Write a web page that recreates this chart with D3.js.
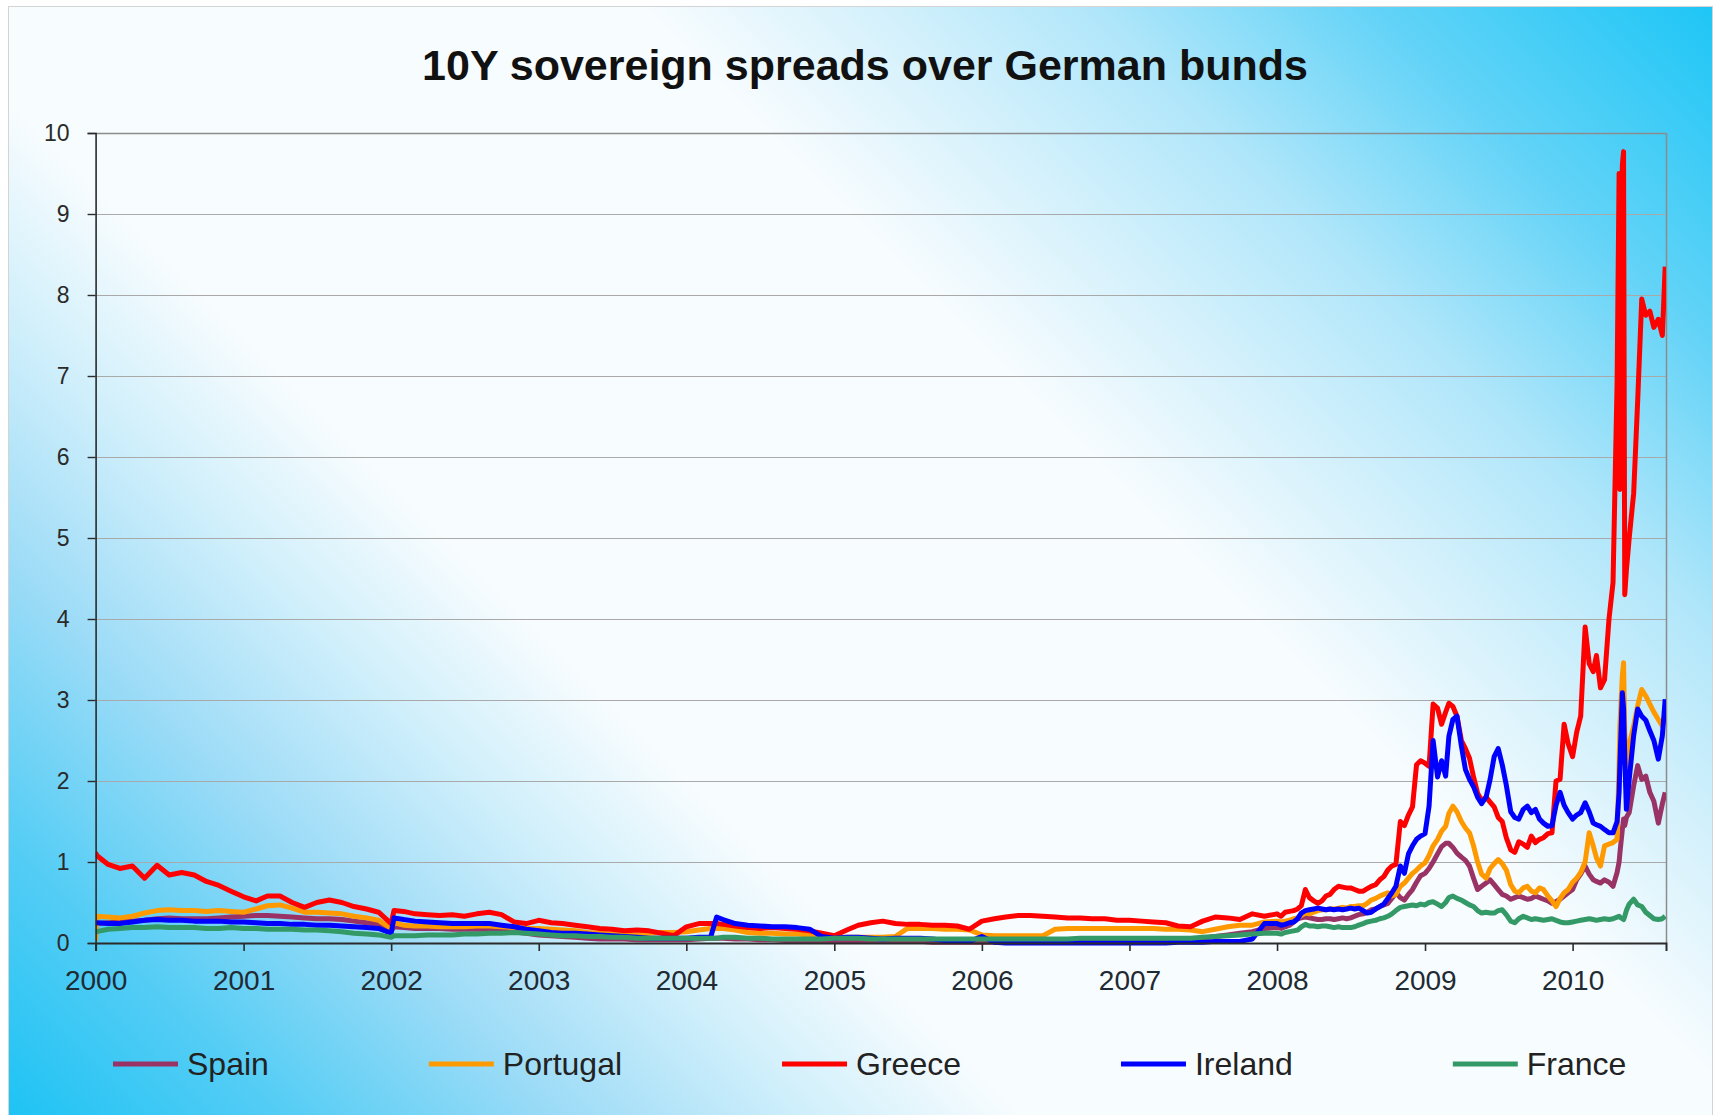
<!DOCTYPE html>
<html>
<head>
<meta charset="utf-8">
<title>10Y sovereign spreads over German bunds</title>
<script src="https://cdn.jsdelivr.net/npm/d3@7"></script>
<style>
  html, body { margin: 0; padding: 0; background: #ffffff; }
  svg { display: block; font-family: "Liberation Sans", Arial, Helvetica, sans-serif; }
</style>
</head>
<body>
<svg id="chart" width="1723" height="1115"></svg>
<script>
// Observation dates: monthly to 2007, roughly every ten days from 2008
const dates = [
  "2000-01-01","2000-01-04","2000-02-01","2000-03-01","2000-04-01","2000-05-01","2000-06-01","2000-07-01","2000-08-01","2000-09-01","2000-10-01","2000-11-01","2000-12-01",
  "2001-01-01","2001-02-01","2001-03-01","2001-04-01","2001-05-01","2001-06-01","2001-07-01","2001-08-01","2001-09-01","2001-10-01","2001-11-01","2001-12-01",
  "2002-01-01","2002-01-08","2002-02-01","2002-03-01","2002-04-01","2002-05-01","2002-06-01","2002-07-01","2002-08-01","2002-09-01","2002-10-01","2002-11-01","2002-12-01",
  "2003-01-01","2003-02-01","2003-03-01","2003-04-01","2003-05-01","2003-06-01","2003-07-01","2003-08-01","2003-09-01","2003-10-01","2003-11-01","2003-12-01",
  "2004-01-01","2004-02-01","2004-03-01","2004-03-16","2004-04-01","2004-05-01","2004-06-01","2004-07-01","2004-08-01","2004-09-01","2004-10-01","2004-11-01","2004-12-01",
  "2005-01-01","2005-02-01","2005-03-01","2005-04-01","2005-05-01","2005-06-01","2005-07-01","2005-08-01","2005-09-01","2005-10-01","2005-11-01","2005-12-01",
  "2006-01-01","2006-02-01","2006-03-01","2006-04-01","2006-05-01","2006-06-01","2006-07-01","2006-08-01","2006-09-01","2006-10-01","2006-11-01","2006-12-01",
  "2007-01-01","2007-02-01","2007-03-01","2007-04-01","2007-05-01","2007-06-01","2007-07-01","2007-08-01","2007-09-01","2007-10-01","2007-11-01","2007-12-01",
  "2008-01-01","2008-01-11","2008-01-21","2008-02-01","2008-02-11","2008-02-21","2008-03-01","2008-03-11","2008-03-21","2008-04-01","2008-04-11","2008-04-21",
  "2008-05-01","2008-05-11","2008-05-21","2008-06-01","2008-06-11","2008-06-21","2008-07-01","2008-07-11","2008-07-21","2008-08-01","2008-08-11","2008-08-21",
  "2008-09-01","2008-09-11","2008-09-21","2008-10-01","2008-10-11","2008-10-21","2008-11-01","2008-11-11","2008-11-21","2008-12-01","2008-12-11","2008-12-21",
  "2009-01-01","2009-01-11","2009-01-21","2009-02-01","2009-02-11","2009-02-21","2009-03-01","2009-03-11","2009-03-21","2009-04-01","2009-04-11","2009-04-21",
  "2009-05-01","2009-05-11","2009-05-21","2009-06-01","2009-06-11","2009-06-21","2009-07-01","2009-07-11","2009-07-21","2009-08-01","2009-08-11","2009-08-21",
  "2009-09-01","2009-09-11","2009-09-21","2009-10-01","2009-10-11","2009-10-21","2009-11-01","2009-11-11","2009-11-21","2009-12-01","2009-12-11","2009-12-21",
  "2010-01-01","2010-01-11","2010-01-21","2010-02-01","2010-02-11","2010-02-21","2010-03-01","2010-03-11","2010-03-21",
  "2010-04-01","2010-04-11","2010-04-21","2010-04-26","2010-04-28","2010-05-04","2010-05-07","2010-05-10","2010-05-14","2010-05-21",
  "2010-06-01","2010-06-11","2010-06-21","2010-07-01","2010-07-11","2010-07-21","2010-08-01","2010-08-11","2010-08-18"
];

// Spreads over the German 10Y bund, percentage points
const spain = [
  0.24,0.24,0.25,0.26,0.27,0.28,0.30,0.31,0.30,0.30,0.30,0.31,0.32,
  0.33,0.34,0.34,0.33,0.32,0.31,0.30,0.30,0.29,0.27,0.25,0.23,
  0.15,0.20,0.19,0.18,0.18,0.18,0.17,0.17,0.17,0.17,0.16,0.14,0.12,
  0.10,0.09,0.08,0.07,0.06,0.05,0.05,0.05,0.04,0.04,0.04,0.04,
  0.04,0.05,0.06,0.06,0.06,0.05,0.05,0.04,0.04,0.03,0.03,0.02,0.02,
  0.02,0.02,0.02,0.02,0.02,0.02,0.02,0.02,0.01,0.01,0.01,0.01,
  0.01,0.01,0.01,0.01,0.01,0.01,0.01,0.01,0.01,0.01,0.01,0.01,
  0.01,0.01,0.02,0.02,0.03,0.04,0.06,0.08,0.10,0.12,0.14,0.18,
  0.19,0.18,0.20,0.22,0.26,0.30,0.31,0.32,0.31,0.30,0.29,0.29,
  0.30,0.30,0.29,0.30,0.31,0.30,0.31,0.33,0.35,0.36,0.38,0.41,
  0.42,0.45,0.47,0.49,0.55,0.62,0.56,0.53,0.60,0.66,0.75,0.83,
  0.86,0.92,1.00,1.10,1.19,1.23,1.23,1.18,1.11,1.06,1.02,0.95,
  0.80,0.66,0.70,0.74,0.78,0.72,0.66,0.60,0.58,0.54,0.56,0.58,
  0.56,0.54,0.55,0.58,0.56,0.54,0.52,0.49,0.51,0.54,0.58,0.62,
  0.66,0.78,0.85,0.95,0.85,0.78,0.76,0.74,0.78,
  0.75,0.70,0.87,1.00,1.11,1.40,1.53,1.45,1.55,1.61,
  1.94,2.19,2.02,2.06,1.86,1.75,1.48,1.72,1.86
];

const portugal = [
  0.03,0.33,0.32,0.31,0.33,0.37,0.40,0.41,0.40,0.40,0.39,0.40,0.39,
  0.38,0.42,0.46,0.47,0.43,0.38,0.38,0.37,0.36,0.33,0.31,0.28,
  0.18,0.25,0.22,0.21,0.21,0.20,0.20,0.20,0.21,0.21,0.20,0.19,0.18,
  0.18,0.17,0.16,0.15,0.13,0.12,0.11,0.11,0.10,0.12,0.13,0.13,
  0.14,0.16,0.18,0.18,0.18,0.16,0.13,0.12,0.12,0.11,0.11,0.10,0.08,
  0.07,0.07,0.07,0.07,0.07,0.08,0.18,0.18,0.18,0.17,0.17,0.16,
  0.10,0.09,0.09,0.09,0.09,0.09,0.17,0.18,0.18,0.18,0.18,0.18,
  0.18,0.18,0.18,0.17,0.17,0.16,0.14,0.17,0.20,0.22,0.22,0.26,
  0.27,0.26,0.27,0.28,0.30,0.31,0.34,0.37,0.36,0.38,0.40,0.41,
  0.41,0.42,0.42,0.43,0.44,0.43,0.45,0.45,0.46,0.46,0.49,0.53,
  0.55,0.58,0.60,0.62,0.58,0.60,0.70,0.74,0.80,0.86,0.90,0.95,
  0.99,1.08,1.20,1.28,1.38,1.44,1.60,1.69,1.62,1.50,1.42,1.36,
  1.20,1.00,0.85,0.80,0.92,0.98,1.03,0.98,0.90,0.72,0.64,0.62,
  0.68,0.70,0.64,0.62,0.68,0.66,0.58,0.52,0.45,0.55,0.62,0.66,
  0.75,0.80,0.87,1.00,1.36,1.20,1.05,0.95,1.20,
  1.22,1.24,1.28,2.20,2.68,3.30,3.46,2.60,2.19,2.45,
  2.68,2.93,3.13,3.05,2.95,2.85,2.76,2.68,2.85
];

const greece = [
  1.12,1.08,0.97,0.92,0.95,0.80,0.96,0.84,0.87,0.84,0.76,0.71,0.64,
  0.57,0.52,0.58,0.58,0.50,0.44,0.50,0.53,0.50,0.45,0.42,0.38,
  0.24,0.40,0.39,0.36,0.35,0.34,0.35,0.33,0.36,0.38,0.35,0.26,0.24,
  0.28,0.25,0.24,0.22,0.20,0.18,0.17,0.15,0.16,0.15,0.12,0.09,
  0.20,0.24,0.24,0.24,0.23,0.21,0.19,0.18,0.19,0.18,0.17,0.15,0.12,
  0.09,0.16,0.22,0.25,0.27,0.24,0.23,0.23,0.22,0.22,0.21,0.17,
  0.27,0.30,0.32,0.34,0.34,0.33,0.32,0.31,0.31,0.30,0.30,0.28,
  0.28,0.27,0.26,0.25,0.21,0.20,0.27,0.32,0.31,0.29,0.36,0.33,
  0.36,0.33,0.38,0.39,0.40,0.42,0.46,0.66,0.56,0.52,0.49,0.52,
  0.58,0.60,0.66,0.70,0.69,0.68,0.68,0.66,0.64,0.64,0.67,0.70,
  0.72,0.78,0.82,0.90,0.95,0.97,1.50,1.45,1.58,1.68,2.20,2.25,
  2.22,2.18,2.95,2.90,2.70,2.85,2.96,2.92,2.80,2.50,2.40,2.28,
  2.05,1.85,1.76,1.80,1.74,1.68,1.55,1.50,1.30,1.15,1.12,1.25,
  1.22,1.18,1.32,1.24,1.28,1.30,1.35,1.36,2.00,2.02,2.70,2.46,
  2.30,2.60,2.80,3.90,3.45,3.35,3.55,3.15,3.25,
  4.00,4.45,6.90,9.50,5.60,9.60,9.77,4.30,4.60,5.00,
  5.55,6.70,7.95,7.75,7.80,7.60,7.70,7.50,8.35
];

const ireland = [
  0.25,0.25,0.24,0.24,0.26,0.28,0.29,0.28,0.28,0.27,0.27,0.27,0.26,
  0.26,0.25,0.24,0.24,0.23,0.23,0.22,0.22,0.21,0.20,0.19,0.18,
  0.12,0.31,0.29,0.27,0.26,0.25,0.24,0.24,0.24,0.24,0.22,0.20,0.17,
  0.15,0.13,0.12,0.12,0.11,0.10,0.09,0.08,0.07,0.06,0.06,0.06,
  0.06,0.07,0.07,0.32,0.29,0.24,0.22,0.21,0.20,0.20,0.19,0.17,0.08,
  0.06,0.07,0.07,0.06,0.05,0.06,0.06,0.06,0.05,0.03,0.02,0.02,
  0.08,0.01,0.00,0.00,0.00,0.00,0.00,0.00,0.00,0.00,0.00,0.00,
  0.00,0.00,0.00,0.00,0.01,0.01,0.01,0.02,0.02,0.02,0.05,0.24,
  0.24,0.22,0.23,0.25,0.26,0.30,0.37,0.40,0.41,0.42,0.43,0.42,
  0.41,0.42,0.41,0.42,0.41,0.42,0.43,0.42,0.43,0.40,0.37,0.38,
  0.42,0.45,0.48,0.55,0.62,0.70,0.95,0.86,1.10,1.20,1.28,1.32,
  1.35,1.69,2.50,2.05,2.25,2.06,2.55,2.76,2.80,2.43,2.14,2.02,
  1.93,1.80,1.72,1.80,2.02,2.30,2.40,2.20,1.95,1.62,1.55,1.53,
  1.65,1.69,1.61,1.65,1.53,1.48,1.44,1.45,1.70,1.86,1.70,1.61,
  1.53,1.58,1.61,1.73,1.62,1.48,1.46,1.44,1.40,
  1.36,1.36,1.50,1.86,2.20,3.09,2.90,2.30,1.65,2.02,
  2.56,2.89,2.80,2.75,2.62,2.50,2.27,2.56,3.01
];

const france = [
  0.13,0.14,0.17,0.18,0.19,0.19,0.20,0.19,0.19,0.19,0.18,0.18,0.19,
  0.18,0.18,0.17,0.17,0.17,0.16,0.16,0.15,0.14,0.12,0.11,0.10,
  0.07,0.09,0.09,0.09,0.10,0.10,0.10,0.11,0.11,0.12,0.12,0.13,0.12,
  0.11,0.10,0.09,0.09,0.08,0.08,0.07,0.07,0.06,0.06,0.06,0.06,
  0.06,0.06,0.06,0.06,0.07,0.07,0.06,0.06,0.05,0.05,0.05,0.05,0.05,
  0.06,0.06,0.06,0.05,0.05,0.05,0.05,0.05,0.05,0.05,0.05,0.05,
  0.05,0.05,0.05,0.05,0.05,0.05,0.05,0.05,0.06,0.06,0.06,0.06,
  0.06,0.06,0.06,0.06,0.06,0.06,0.07,0.08,0.09,0.10,0.11,0.12,
  0.12,0.11,0.13,0.14,0.15,0.16,0.20,0.23,0.21,0.21,0.20,0.21,
  0.21,0.20,0.19,0.20,0.19,0.19,0.19,0.20,0.22,0.24,0.26,0.27,
  0.28,0.30,0.31,0.33,0.36,0.40,0.44,0.45,0.46,0.47,0.46,0.48,
  0.47,0.50,0.51,0.48,0.45,0.50,0.56,0.58,0.55,0.53,0.50,0.47,
  0.45,0.40,0.37,0.38,0.37,0.37,0.40,0.41,0.35,0.27,0.25,0.30,
  0.33,0.31,0.29,0.30,0.29,0.28,0.29,0.30,0.28,0.26,0.25,0.25,
  0.26,0.27,0.28,0.29,0.30,0.29,0.28,0.29,0.30,
  0.29,0.30,0.32,0.33,0.32,0.30,0.29,0.33,0.40,0.48,
  0.54,0.47,0.45,0.38,0.34,0.30,0.29,0.30,0.33
];

const seriesNames  = ["Spain", "Portugal", "Greece", "Ireland", "France"];
const seriesColors = ["#993366", "#ff9900", "#ff0000", "#0000ff", "#339966"];
const seriesValues = [spain, portugal, greece, ireland, france];

const yTickValues = [0, 1, 2, 3, 4, 5, 6, 7, 8, 9, 10];
const xTickYears  = ["2000","2001","2002","2003","2004","2005","2006","2007","2008","2009","2010"];
const titleText   = "10Y sovereign spreads over German bunds";

// ---------------------------------------------------------------------------
const frame = { left: 8, top: 6, right: 1712, bottom: 1118 };
const plot  = { left: 95.6, top: 133, right: 1666, bottom: 943 };

const parseDate = d3.timeParse("%Y-%m-%d");
const parseYear = d3.timeParse("%Y");

const svg = d3.select("#chart");
const defs = svg.append("defs");

// Diagonal background: cyan in the lower-left and upper-right corners, soft white band between
const span = ((frame.right - frame.left) + (frame.bottom - frame.top)) / 2;
const bg = defs.append("linearGradient")
  .attr("id", "bgGrad")
  .attr("gradientUnits", "userSpaceOnUse")
  .attr("x1", frame.left).attr("y1", frame.bottom)
  .attr("x2", frame.left + span).attr("y2", frame.bottom - span);
[
  [0.00, "#1ec3f4"], [0.10, "#55cdf5"], [0.20, "#9edcf7"], [0.28, "#cdeefb"],
  [0.36, "#f7fcfe"], [0.62, "#f7fcfe"], [0.70, "#d5f1fc"], [0.78, "#b0e6fa"],
  [0.88, "#62d3f7"], [1.00, "#1ec6f6"]
].forEach(([o, c]) => bg.append("stop").attr("offset", o).attr("stop-color", c));

svg.append("rect")
  .attr("x", frame.left + 0.5).attr("y", frame.top + 0.5)
  .attr("width", frame.right - frame.left).attr("height", frame.bottom - frame.top)
  .attr("fill", "url(#bgGrad)")
  .attr("stroke", "#d4d4d4").attr("stroke-width", 1);

defs.append("clipPath").attr("id", "plotClip")
  .append("rect")
  .attr("x", plot.left).attr("y", plot.top - 4)
  .attr("width", plot.right - plot.left).attr("height", plot.bottom - plot.top + 8);

// Scales
const x = d3.scaleTime()
  .domain([parseDate("2000-01-01"), parseDate("2010-08-20")])
  .range([plot.left, plot.right]);
const y = d3.scaleLinear().domain([0, 10]).range([plot.bottom, plot.top]);

// Title
svg.append("text")
  .attr("x", 865).attr("y", 80)
  .attr("text-anchor", "middle")
  .attr("font-size", 43).attr("font-weight", "bold")
  .attr("fill", "#111")
  .text(titleText);

// Horizontal gridlines
svg.append("g").selectAll("line")
  .data(yTickValues.filter(v => v > 0))
  .join("line")
  .attr("x1", plot.left).attr("x2", plot.right)
  .attr("y1", d => Math.round(y(d)) + 0.5).attr("y2", d => Math.round(y(d)) + 0.5)
  .attr("stroke", d => d === 10 ? "#8c8c8c" : "#a9a9a9")
  .attr("stroke-width", d => d === 10 ? 1.5 : 1);

// Right-hand frame of the plot area
svg.append("line")
  .attr("x1", plot.right + 0.5).attr("x2", plot.right + 0.5)
  .attr("y1", plot.top).attr("y2", plot.bottom)
  .attr("stroke", "#8c8c8c").attr("stroke-width", 1.5);

// Series
const series = seriesNames.map((name, i) => ({
  name,
  color: seriesColors[i],
  points: dates.map((d, j) => ({ date: parseDate(d), value: seriesValues[i][j] }))
}));

const line = d3.line()
  .x(d => x(d.date))
  .y(d => y(d.value));

svg.append("g")
  .attr("clip-path", "url(#plotClip)")
  .selectAll("path")
  .data(series)
  .join("path")
  .attr("d", d => line(d.points))
  .attr("fill", "none")
  .attr("stroke", d => d.color)
  .attr("stroke-width", 5)
  .attr("stroke-linejoin", "round")
  .attr("stroke-linecap", "butt");

// Axes
const yAxis = d3.axisLeft(y)
  .tickValues(yTickValues)
  .tickFormat(d3.format("d"))
  .tickSize(8)
  .tickPadding(18);
const gy = svg.append("g")
  .attr("transform", `translate(${plot.left},0)`)
  .call(yAxis);
gy.select(".domain").attr("stroke", "#2b2b2b").attr("stroke-width", 1.6);
gy.selectAll(".tick line").attr("stroke", "#2b2b2b").attr("stroke-width", 1.4);
gy.selectAll(".tick text")
  .attr("font-family", "\"Liberation Sans\", Arial, sans-serif")
  .attr("font-size", 23).attr("fill", "#2a2a2a");

const xAxis = d3.axisBottom(x)
  .tickValues(xTickYears.map(parseYear))
  .tickFormat(d3.timeFormat("%Y"))
  .tickSize(8)
  .tickPadding(19);
const gx = svg.append("g")
  .attr("transform", `translate(0,${plot.bottom})`)
  .call(xAxis);
gx.select(".domain").attr("stroke", "#2b2b2b").attr("stroke-width", 2);
gx.selectAll(".tick line").attr("stroke", "#2b2b2b").attr("stroke-width", 1.6);
gx.selectAll(".tick text")
  .attr("font-family", "\"Liberation Sans\", Arial, sans-serif")
  .attr("font-size", 28).attr("fill", "#1f2a33");

// Legend: line sample + label, equal spacing between entries
const legendY = 1064;
const sampleLen = 65, sampleGap = 9, itemGap = 160;
const legend = svg.append("g");
let cursor = 113;
series.forEach(s => {
  const g = legend.append("g");
  g.append("line")
    .attr("x1", cursor).attr("x2", cursor + sampleLen)
    .attr("y1", legendY).attr("y2", legendY)
    .attr("stroke", s.color).attr("stroke-width", 5);
  const t = g.append("text")
    .attr("x", cursor + sampleLen + sampleGap)
    .attr("y", legendY + 11)
    .attr("font-size", 32)
    .attr("fill", "#222")
    .text(s.name);
  cursor += sampleLen + sampleGap + t.node().getComputedTextLength() + itemGap;
});

if (seriesValues.some(v => v.length !== dates.length)) {
  console.error("series length mismatch", seriesValues.map(v => v.length), dates.length);
}
</script>
</body>
</html>
